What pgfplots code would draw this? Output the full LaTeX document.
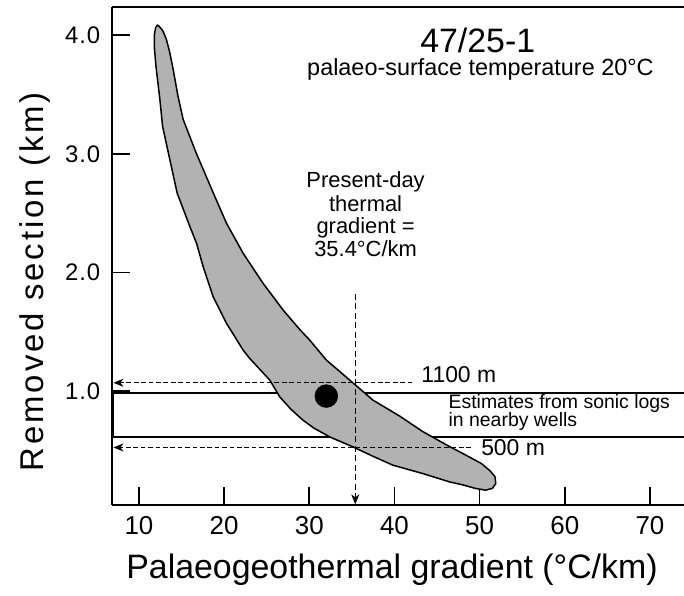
\documentclass[border=0pt]{standalone}
\usepackage{pgfplots}
\pgfplotsset{compat=1.18}
\usepackage{fontspec}
\setmainfont{Liberation Sans}
\usetikzlibrary{arrows.meta}

\begin{document}
\begin{tikzpicture}
\begin{axis}[
  scale only axis, width=572.3bp, height=498.3bp,
  xmin=6.8, xmax=74, ymin=0.04, ymax=4.24,
  axis x line=box, axis y line=left,
  axis line style={-, line width=1.7bp},
  xtick={10,20,...,70}, ytick={1,2,3,4},
  xtick pos=left, ytick pos=left,
  tick align=inside, major tick length=18bp,
  tick style={line width=1.6bp, black},
  /pgf/number format/assume math mode=true,
  yticklabel style={font=\fontsize{24}{24}\selectfont\addfontfeature{LetterSpace=4}, xshift=-8bp, /pgf/number format/fixed, /pgf/number format/fixed zerofill, /pgf/number format/precision=1},
  xticklabel style={font=\fontsize{26}{26}\selectfont, yshift=-8bp},
  xlabel={Palaeogeothermal gradient (°C/km)},
  ylabel={Removed section (km)},
  every axis x label/.style={at={(rel axis cs:0.4898,-0.1304)}, anchor=center, font=\fontsize{34}{34}\selectfont},
  every axis y label/.style={at={(rel axis cs:-0.134,0.448)}, anchor=center, rotate=90, font=\fontsize{33}{33}\selectfont\addfontfeature{LetterSpace=9}},
  clip=false,
]
\coordinate (O) at (rel axis cs:0,0);

% sonic-log estimate band
\addplot[black, line width=1.6bp] coordinates {(74,0.986) (7.0,0.986) (7.0,0.614) (74,0.614)};

% solution envelope
\addplot[draw=black, line width=1.5bp, fill=black!30, line join=round] coordinates {
(12.3,4.08) (12.78,4.04) (13.2,3.97) (13.6,3.86) (14.02,3.71) (14.6,3.48) (15.19,3.29) (16.0,3.14) (16.76,3.0)
(18.91,2.64) (20.28,2.415) (22.23,2.162) (24.57,1.909) (26.92,1.684) (28.87,1.52) (30.05,1.43) (32.0,1.262)
(33.5,1.17) (35.12,1.07) (37.47,0.924) (40.6,0.79) (43.3,0.66) (46.4,0.535) (48.4,0.46) (50.2,0.39) (51.2,0.33)
(51.8,0.28) (51.9,0.22) (51.5,0.18) (50.7,0.165) (49.5,0.18) (48.0,0.21) (46.46,0.235) (43.33,0.305) (39.8,0.376)
(37.5,0.45) (35.12,0.53) (32.39,0.614) (30.5,0.69) (29.26,0.755) (27.8,0.85) (26.53,0.952) (25.36,1.093)
(23.0,1.276) (22.23,1.346) (20.28,1.571) (18.71,1.796) (17.54,2.049) (16.76,2.246) (15.98,2.387) (14.8,2.61)
(14.49,2.668) (13.63,2.95) (12.78,3.23) (12.46,3.456) (12.0,3.737) (11.8,3.905) (11.8,4.0) (11.95,4.06) (12.15,4.085)
} -- cycle;

% dashed guide lines
\addplot[black, line width=1.4bp, dash pattern=on 4.7bp off 2.7bp, -{Stealth[length=10bp,width=8bp,inset=3bp]}]
  coordinates {(42.1,1.07) (7.0,1.07)};
\addplot[black, line width=1.4bp, dash pattern=on 4.7bp off 2.7bp, -{Stealth[length=10bp,width=8bp,inset=3bp]}]
  coordinates {(49.0,0.525) (7.0,0.525)};
\addplot[black, line width=1.4bp, dash pattern=on 6bp off 3.5bp, -{Stealth[length=10bp,width=8bp,inset=3bp]}]
  coordinates {(35.4,1.82) (35.4,0.045)};

% well estimate
\addplot[only marks, mark=*, mark size=11.5pt, black] coordinates {(32.0,0.958)};

% annotations
\node[anchor=base, inner sep=0, font=\fontsize{34}{34}\selectfont] at (axis cs:49.78,3.852) {47/25-1};
\node[anchor=base, inner sep=0, font=\fontsize{23.5}{23.5}\selectfont] at (axis cs:50.1,3.658) {palaeo-surface temperature 20°C};
\node[anchor=base, inner sep=0, font=\fontsize{22}{22}\selectfont] at (axis cs:36.61,2.712) {Present-day};
\node[anchor=base, inner sep=0, font=\fontsize{22}{22}\selectfont] at (axis cs:36.61,2.513) {thermal};
\node[anchor=base, inner sep=0, font=\fontsize{22}{22}\selectfont] at (axis cs:36.61,2.331) {gradient =};
\node[anchor=base, inner sep=0, font=\fontsize{22}{22}\selectfont] at (axis cs:36.61,2.133) {35.4°C/km};
\node[anchor=base west, inner sep=0, font=\fontsize{23}{23}\selectfont] at (axis cs:43.15,1.076) {1100 m};
\node[anchor=base west, inner sep=0, font=\fontsize{23}{23}\selectfont] at (axis cs:50.17,0.46) {500 m};
\node[anchor=base west, inner sep=0, font=\fontsize{19.5}{19.5}\selectfont] at (axis cs:46.34,0.854) {Estimates from sonic logs};
\node[anchor=base west, inner sep=0, font=\fontsize{19.5}{19.5}\selectfont] at (axis cs:46.34,0.699) {in nearby wells};
\end{axis}
\pgfresetboundingbox
\path[use as bounding box] (O) ++(-111.7bp,-91bp) rectangle ++(684bp,596bp);
\end{tikzpicture}
\end{document}
